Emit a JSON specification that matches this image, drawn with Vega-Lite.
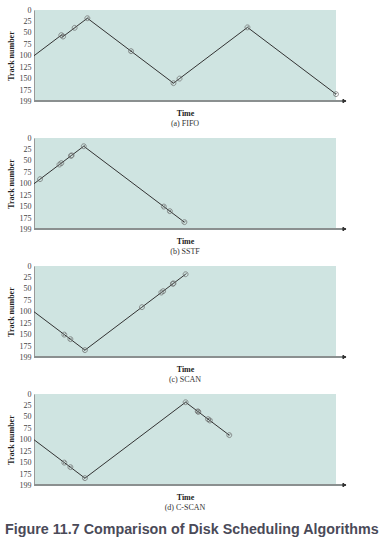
{
  "$schema": "https://vega.github.io/schema/vega-lite/v6.json",
  "background": "white",
  "padding": {"left": 5, "top": 6, "right": 3, "bottom": 3},
  "datasets": {
    "seek": [
      {"panel": "FIFO", "time": 0, "track": 100, "req": false},
      {"panel": "FIFO", "time": 45, "track": 55, "req": true},
      {"panel": "FIFO", "time": 48, "track": 58, "req": true},
      {"panel": "FIFO", "time": 67, "track": 39, "req": true},
      {"panel": "FIFO", "time": 88, "track": 18, "req": true},
      {"panel": "FIFO", "time": 160, "track": 90, "req": true},
      {"panel": "FIFO", "time": 230, "track": 160, "req": true},
      {"panel": "FIFO", "time": 240, "track": 150, "req": true},
      {"panel": "FIFO", "time": 352, "track": 38, "req": true},
      {"panel": "FIFO", "time": 498, "track": 184, "req": true},
      {"panel": "SSTF", "time": 0, "track": 100, "req": false},
      {"panel": "SSTF", "time": 10, "track": 90, "req": true},
      {"panel": "SSTF", "time": 42, "track": 58, "req": true},
      {"panel": "SSTF", "time": 45, "track": 55, "req": true},
      {"panel": "SSTF", "time": 61, "track": 39, "req": true},
      {"panel": "SSTF", "time": 62, "track": 38, "req": true},
      {"panel": "SSTF", "time": 82, "track": 18, "req": true},
      {"panel": "SSTF", "time": 214, "track": 150, "req": true},
      {"panel": "SSTF", "time": 224, "track": 160, "req": true},
      {"panel": "SSTF", "time": 248, "track": 184, "req": true},
      {"panel": "SCAN", "time": 0, "track": 100, "req": false},
      {"panel": "SCAN", "time": 50, "track": 150, "req": true},
      {"panel": "SCAN", "time": 60, "track": 160, "req": true},
      {"panel": "SCAN", "time": 84, "track": 184, "req": true},
      {"panel": "SCAN", "time": 178, "track": 90, "req": true},
      {"panel": "SCAN", "time": 210, "track": 58, "req": true},
      {"panel": "SCAN", "time": 213, "track": 55, "req": true},
      {"panel": "SCAN", "time": 229, "track": 39, "req": true},
      {"panel": "SCAN", "time": 230, "track": 38, "req": true},
      {"panel": "SCAN", "time": 250, "track": 18, "req": true},
      {"panel": "C-SCAN", "time": 0, "track": 100, "req": false},
      {"panel": "C-SCAN", "time": 50, "track": 150, "req": true},
      {"panel": "C-SCAN", "time": 60, "track": 160, "req": true},
      {"panel": "C-SCAN", "time": 84, "track": 184, "req": true},
      {"panel": "C-SCAN", "time": 250, "track": 18, "req": true},
      {"panel": "C-SCAN", "time": 270, "track": 38, "req": true},
      {"panel": "C-SCAN", "time": 271, "track": 39, "req": true},
      {"panel": "C-SCAN", "time": 287, "track": 55, "req": true},
      {"panel": "C-SCAN", "time": 290, "track": 58, "req": true},
      {"panel": "C-SCAN", "time": 322, "track": 90, "req": true}
    ]
  },
  "title": {
    "text": "Figure 11.7 Comparison of Disk Scheduling Algorithms",
    "orient": "bottom",
    "anchor": "start",
    "offset": 11,
    "font": "Liberation Sans",
    "fontSize": 14.3,
    "fontWeight": "bold",
    "color": "#4a4a58",
    "dx": -2
  },
  "config": {
    "view": {"fill": "#cfe4e1", "stroke": null},
    "concat": {"spacing": 6},
    "axis": {
      "labelFont": "Liberation Serif",
      "labelFontSize": 8,
      "labelColor": "#444",
      "titleFont": "Liberation Serif",
      "titleFontSize": 8,
      "titleFontWeight": "bold",
      "titleColor": "#222",
      "grid": false
    },
    "title": {
      "font": "Liberation Serif",
      "fontSize": 8,
      "fontWeight": "normal",
      "color": "#333"
    }
  },
  "vconcat": [
    {
      "width": 302, "height": 91,
      "title": {"text": "(a) FIFO", "orient": "bottom", "offset": 3},
      "data": {"name": "seek"},
      "transform": [{"filter": "datum.panel === 'FIFO'"}],
      "encoding": {
        "x": {"field": "time", "type": "quantitative", "scale": {"domain": [0, 498], "nice": false, "zero": false},
              "axis": {"title": "Time", "labels": false, "ticks": false, "domain": false, "titlePadding": 8}},
        "y": {"field": "track", "type": "quantitative", "scale": {"domain": [0, 199], "reverse": true, "nice": false},
              "axis": {"title": "Track number", "values": [0, 25, 50, 75, 100, 125, 150, 175, 199], "ticks": false, "labelPadding": 3, "titlePadding": 4, "domainColor": "#999", "labelOverlap": false}}
      },
      "layer": [
        {"mark": {"type": "rule", "color": "#8a8f8f", "strokeWidth": 1}, "encoding": {"x": {"datum": 0}, "x2": {"datum": 510}, "y": {"datum": 199}}},
        {"mark": {"type": "point", "shape": "triangle-right", "filled": true, "color": "#333", "size": 14}, "encoding": {"x": {"datum": 512}, "y": {"datum": 199}}},
        {"mark": {"type": "line", "color": "#333", "strokeWidth": 1}},
        {"transform": [{"filter": "datum.req"}], "mark": {"type": "point", "shape": "M-1,0A1,1,0,1,1,1,0A1,1,0,1,1,-1,0ZM-0.7,0.7L0.7,-0.7", "filled": false, "stroke": "#666", "strokeWidth": 1, "size": 24}}
      ]
    },
    {
      "width": 302, "height": 91,
      "title": {"text": "(b) SSTF", "orient": "bottom", "offset": 3},
      "data": {"name": "seek"},
      "transform": [{"filter": "datum.panel === 'SSTF'"}],
      "encoding": {
        "x": {"field": "time", "type": "quantitative", "scale": {"domain": [0, 498], "nice": false, "zero": false},
              "axis": {"title": "Time", "labels": false, "ticks": false, "domain": false, "titlePadding": 8}},
        "y": {"field": "track", "type": "quantitative", "scale": {"domain": [0, 199], "reverse": true, "nice": false},
              "axis": {"title": "Track number", "values": [0, 25, 50, 75, 100, 125, 150, 175, 199], "ticks": false, "labelPadding": 3, "titlePadding": 4, "domainColor": "#999", "labelOverlap": false}}
      },
      "layer": [
        {"mark": {"type": "rule", "color": "#8a8f8f", "strokeWidth": 1}, "encoding": {"x": {"datum": 0}, "x2": {"datum": 510}, "y": {"datum": 199}}},
        {"mark": {"type": "point", "shape": "triangle-right", "filled": true, "color": "#333", "size": 14}, "encoding": {"x": {"datum": 512}, "y": {"datum": 199}}},
        {"mark": {"type": "line", "color": "#333", "strokeWidth": 1}},
        {"transform": [{"filter": "datum.req"}], "mark": {"type": "point", "shape": "M-1,0A1,1,0,1,1,1,0A1,1,0,1,1,-1,0ZM-0.7,0.7L0.7,-0.7", "filled": false, "stroke": "#666", "strokeWidth": 1, "size": 24}}
      ]
    },
    {
      "width": 302, "height": 91,
      "title": {"text": "(c) SCAN", "orient": "bottom", "offset": 3},
      "data": {"name": "seek"},
      "transform": [{"filter": "datum.panel === 'SCAN'"}],
      "encoding": {
        "x": {"field": "time", "type": "quantitative", "scale": {"domain": [0, 498], "nice": false, "zero": false},
              "axis": {"title": "Time", "labels": false, "ticks": false, "domain": false, "titlePadding": 8}},
        "y": {"field": "track", "type": "quantitative", "scale": {"domain": [0, 199], "reverse": true, "nice": false},
              "axis": {"title": "Track number", "values": [0, 25, 50, 75, 100, 125, 150, 175, 199], "ticks": false, "labelPadding": 3, "titlePadding": 4, "domainColor": "#999", "labelOverlap": false}}
      },
      "layer": [
        {"mark": {"type": "rule", "color": "#8a8f8f", "strokeWidth": 1}, "encoding": {"x": {"datum": 0}, "x2": {"datum": 510}, "y": {"datum": 199}}},
        {"mark": {"type": "point", "shape": "triangle-right", "filled": true, "color": "#333", "size": 14}, "encoding": {"x": {"datum": 512}, "y": {"datum": 199}}},
        {"mark": {"type": "line", "color": "#333", "strokeWidth": 1}},
        {"transform": [{"filter": "datum.req"}], "mark": {"type": "point", "shape": "M-1,0A1,1,0,1,1,1,0A1,1,0,1,1,-1,0ZM-0.7,0.7L0.7,-0.7", "filled": false, "stroke": "#666", "strokeWidth": 1, "size": 24}}
      ]
    },
    {
      "width": 302, "height": 91,
      "title": {"text": "(d) C-SCAN", "orient": "bottom", "offset": 3},
      "data": {"name": "seek"},
      "transform": [{"filter": "datum.panel === 'C-SCAN'"}],
      "encoding": {
        "x": {"field": "time", "type": "quantitative", "scale": {"domain": [0, 498], "nice": false, "zero": false},
              "axis": {"title": "Time", "labels": false, "ticks": false, "domain": false, "titlePadding": 8}},
        "y": {"field": "track", "type": "quantitative", "scale": {"domain": [0, 199], "reverse": true, "nice": false},
              "axis": {"title": "Track number", "values": [0, 25, 50, 75, 100, 125, 150, 175, 199], "ticks": false, "labelPadding": 3, "titlePadding": 4, "domainColor": "#999", "labelOverlap": false}}
      },
      "layer": [
        {"mark": {"type": "rule", "color": "#8a8f8f", "strokeWidth": 1}, "encoding": {"x": {"datum": 0}, "x2": {"datum": 510}, "y": {"datum": 199}}},
        {"mark": {"type": "point", "shape": "triangle-right", "filled": true, "color": "#333", "size": 14}, "encoding": {"x": {"datum": 512}, "y": {"datum": 199}}},
        {"mark": {"type": "line", "color": "#333", "strokeWidth": 1}},
        {"transform": [{"filter": "datum.req"}], "mark": {"type": "point", "shape": "M-1,0A1,1,0,1,1,1,0A1,1,0,1,1,-1,0ZM-0.7,0.7L0.7,-0.7", "filled": false, "stroke": "#666", "strokeWidth": 1, "size": 24}}
      ]
    }
  ]
}
